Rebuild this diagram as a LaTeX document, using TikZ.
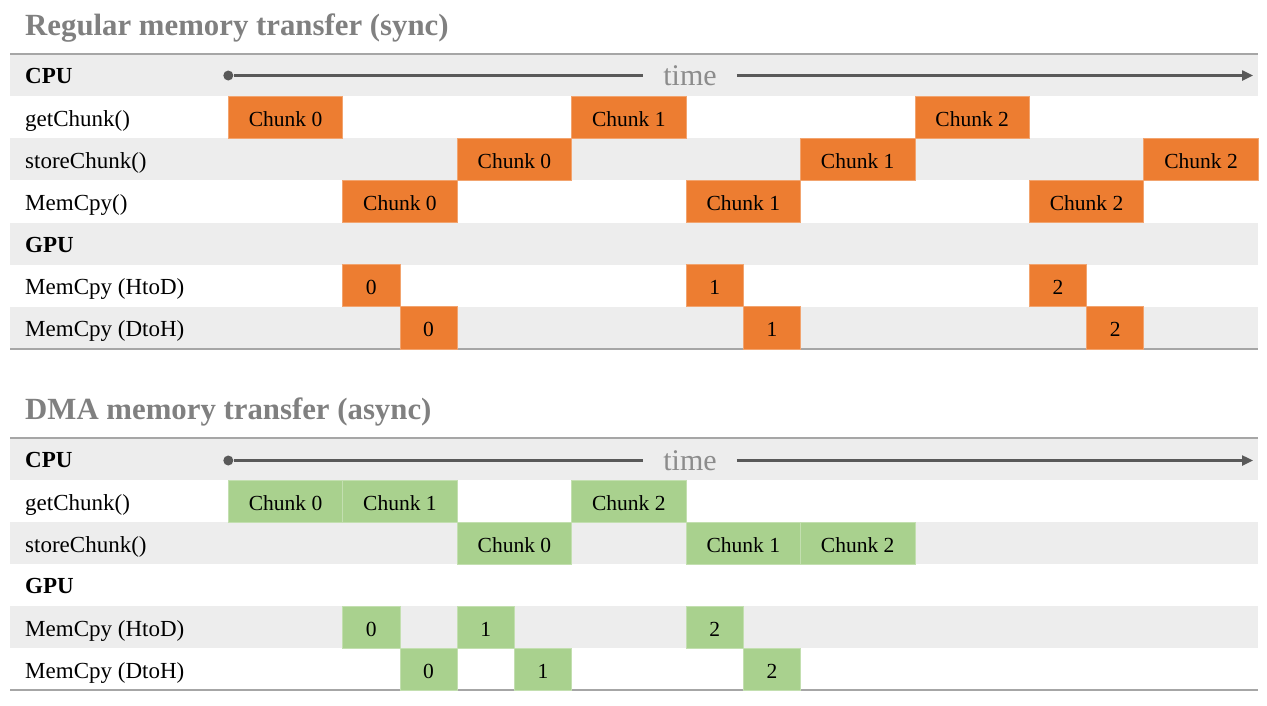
\documentclass[tikz,border=0pt]{standalone}
\usepackage{fontspec}
\setmainfont{Liberation Serif}
\usetikzlibrary{arrows.meta}
\definecolor{orng}{HTML}{ED7D31}
\definecolor{grn}{HTML}{A9D18E}
\definecolor{rowgray}{HTML}{EDEDED}
\definecolor{titlegray}{HTML}{808080}
\definecolor{rulegray}{HTML}{A6A6A6}
\definecolor{arrowgray}{HTML}{595959}
\definecolor{timegray}{HTML}{8C8C8C}
\tikzset{
  blk/.style={inner sep=0pt, outer sep=0pt, minimum height=42.1pt, line width=0.8pt,
    text height=19pt, text depth=1pt,
    font=\fontsize{21.5}{25}\selectfont, text=black, anchor=north west},
  sync/.style={fill=orng, draw=orng!70!white},
  async/.style={fill=grn, draw=grn!70!white},
  rowlabel/.style={anchor=base west, inner sep=0pt, font=\fontsize{23}{27}\selectfont},
  rowhead/.style={anchor=base west, inner sep=0pt, font=\fontsize{23}{27}\selectfont\bfseries},
  title/.style={anchor=base west, inner sep=0pt, text=titlegray, font=\fontsize{30.8}{34}\selectfont\bfseries},
  rowbg/.style={fill=rowgray, draw=none},
  tablerule/.style={draw=rulegray, line width=2pt},
  timetext/.style={text=timegray, font=\fontsize{30}{34}\selectfont, inner xsep=20pt, inner ysep=0pt},
  timeline/.style={draw=arrowgray, line width=2.4pt},
  dot/.style={circle, fill=arrowgray, inner sep=0pt, minimum size=10pt}
}
\newcommand{\blk}[6]{%
  \node[blk, #6, minimum width={#4*57.22pt}] (#1) at ({228.3+#3*57.22}, #2) {#5};}
\begin{document}
\begin{tikzpicture}[x=1pt, y=-1pt]
\useasboundingbox (0,0) rectangle (1267,705);
\fill[white] (0,0) rectangle (1267,705);

% ---------- Top section ----------
\node[title] (t1) at (25,35) {Regular memory transfer (sync)};
\foreach \r in {0,2,4,6} {
  \fill[rowbg] (10,{54+\r*42.14}) rectangle (1258.3,{54+(\r+1)*42.14});
}
\draw[tablerule] (10,54) -- (1258.3,54);
\draw[tablerule] (10,349) -- (1258.3,349);

\node[rowhead]  (a0) at (25,83.6)  {CPU};
\node[rowlabel] (a1) at (25,126.2) {getChunk()};
\node[rowlabel] (a2) at (25,168.4) {storeChunk()};
\node[rowlabel] (a3) at (25,210.5) {MemCpy()};
\node[rowhead]  (a4) at (25,252.1) {GPU};
\node[rowlabel] (a5) at (25,294.8) {MemCpy (HtoD)};
\node[rowlabel] (a6) at (25,336.9) {MemCpy (DtoH)};

\node[dot] (s1) at (228.3,75.5) {};
\node[timetext] (tm1) at (690,75.5) {time};
\coordinate (e1) at (1253,75.5);
\draw[timeline] (s1) -- (tm1.west);
\draw[timeline, -{Triangle[length=11pt,width=10pt]}] (tm1.east) -- (e1);

\blk{g0}{96.14}{0}{2}{Chunk 0}{sync}
\blk{g1}{96.14}{6}{2}{Chunk 1}{sync}
\blk{g2}{96.14}{12}{2}{Chunk 2}{sync}
\blk{s0}{138.29}{4}{2}{Chunk 0}{sync}
\blk{s1b}{138.29}{10}{2}{Chunk 1}{sync}
\blk{s2}{138.29}{16}{2}{Chunk 2}{sync}
\blk{m0}{180.43}{2}{2}{Chunk 0}{sync}
\blk{m1}{180.43}{8}{2}{Chunk 1}{sync}
\blk{m2}{180.43}{14}{2}{Chunk 2}{sync}
\blk{h0}{264.71}{2}{1}{0}{sync}
\blk{h1}{264.71}{8}{1}{1}{sync}
\blk{h2}{264.71}{14}{1}{2}{sync}
\blk{d0}{306.86}{3}{1}{0}{sync}
\blk{d1}{306.86}{9}{1}{1}{sync}
\blk{d2}{306.86}{15}{1}{2}{sync}

% ---------- Bottom section ----------
\node[title] (t2) at (25,419.5) {DMA memory transfer (async)};
\foreach \r in {0,2,4} {
  \fill[rowbg] (10,{438+\r*42}) rectangle (1258.3,{438+(\r+1)*42});
}
\draw[tablerule] (10,438) -- (1258.3,438);
\draw[tablerule] (10,690) -- (1258.3,690);

\node[rowhead]  (b0) at (25,467.5) {CPU};
\node[rowlabel] (b1) at (25,510) {getChunk()};
\node[rowlabel] (b2) at (25,552) {storeChunk()};
\node[rowhead]  (b3) at (25,593.5) {GPU};
\node[rowlabel] (b4) at (25,636) {MemCpy (HtoD)};
\node[rowlabel] (b5) at (25,678) {MemCpy (DtoH)};

\node[dot] (s2d) at (228.3,460.5) {};
\node[timetext] (tm2) at (690,460.5) {time};
\coordinate (e2) at (1253,460.5);
\draw[timeline] (s2d) -- (tm2.west);
\draw[timeline, -{Triangle[length=11pt,width=10pt]}] (tm2.east) -- (e2);

\blk{G0}{480}{0}{2}{Chunk 0}{async}
\blk{G1}{480}{2}{2}{Chunk 1}{async}
\blk{G2}{480}{6}{2}{Chunk 2}{async}
\blk{S0}{522}{4}{2}{Chunk 0}{async}
\blk{S1}{522}{8}{2}{Chunk 1}{async}
\blk{S2}{522}{10}{2}{Chunk 2}{async}
\blk{H0}{606}{2}{1}{0}{async}
\blk{H1}{606}{4}{1}{1}{async}
\blk{H2}{606}{8}{1}{2}{async}
\blk{D0}{648}{3}{1}{0}{async}
\blk{D1}{648}{5}{1}{1}{async}
\blk{D2}{648}{9}{1}{2}{async}
\end{tikzpicture}
\end{document}
